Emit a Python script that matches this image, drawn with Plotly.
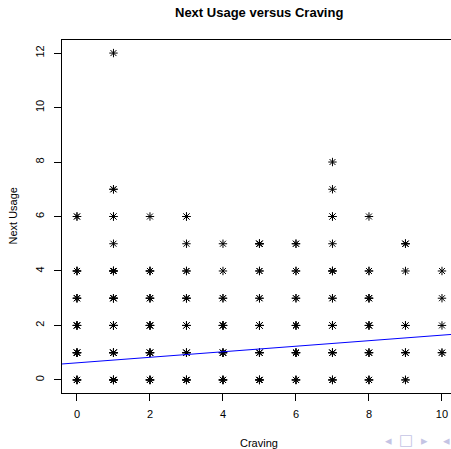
import plotly.graph_objects as go

# ---- data ----
craving = [0, 0, 0, 0, 0, 0,
           1, 1, 1, 1, 1, 1, 1, 1, 1,
           2, 2, 2, 2, 2, 2,
           3, 3, 3, 3, 3, 3, 3,
           4, 4, 4, 4, 4, 4,
           5, 5, 5, 5, 5, 5,
           6, 6, 6, 6, 6, 6,
           7, 7, 7, 7, 7, 7, 7, 7, 7,
           8, 8, 8, 8, 8, 8,
           9, 9, 9, 9, 9,
           10, 10, 10, 10]
next_usage = [0, 1, 2, 3, 4, 6,
              0, 1, 2, 3, 4, 5, 6, 7, 12,
              0, 1, 2, 3, 4, 6,
              0, 1, 2, 3, 4, 5, 6,
              0, 1, 2, 3, 4, 5,
              0, 1, 2, 3, 4, 5,
              0, 1, 2, 3, 4, 5,
              0, 1, 2, 3, 4, 5, 6, 7, 8,
              0, 1, 2, 3, 4, 6,
              0, 1, 2, 4, 5,
              1, 2, 3, 4]
counts = [4, 5, 4, 3, 3, 2,
          5, 6, 5, 4, 4, 1, 2, 2, 1,
          4, 4, 4, 3, 3, 1,
          4, 4, 3, 3, 2, 1, 2,
          4, 4, 4, 2, 1, 1,
          4, 4, 4, 2, 2, 4,
          3, 4, 3, 2, 2, 2,
          3, 4, 3, 2, 3, 1, 2, 1, 1,
          3, 3, 3, 3, 2, 1,
          2, 3, 2, 1, 3,
          2, 1, 1, 1]
fit_intercept = 0.627
fit_slope = 0.1017
x_ticks = [0, 2, 4, 6, 8, 10]
y_ticks = [0, 2, 4, 6, 8, 10, 12]

# expand repeated observations
xs, ys = [], []
for cx, cy, n in zip(craving, next_usage, counts):
    xs += [cx] * n
    ys += [cy] * n

FONT = "Liberation Sans, Arial, sans-serif"
NAV = "#c4c4e4"

fig = go.Figure()
fig.add_trace(go.Scatter(
    x=xs, y=ys, mode="markers",
    marker=dict(symbol="asterisk-open", size=7, color="black",
                line=dict(color="black", width=1)),
    showlegend=False, hoverinfo="skip"))

line_x = [-1, 11]
line_y = [fit_intercept + fit_slope * v for v in line_x]
fig.add_trace(go.Scatter(
    x=line_x, y=line_y, mode="lines",
    line=dict(color="#0000ff", width=1),
    showlegend=False, hoverinfo="skip"))


def nav(sym, px, size):
    return dict(text=sym, xref="paper", x=0, xanchor="center", xshift=px - 62,
                yref="paper", y=0, yanchor="middle", yshift=-(440 - 393),
                showarrow=False, font=dict(family="DejaVu Sans", size=size, color=NAV))


fig.update_layout(
    width=451, height=449,
    margin=dict(l=62, r=0, t=40, b=56, pad=0),
    plot_bgcolor="white", paper_bgcolor="white",
    font=dict(family=FONT, size=11, color="black"),
    xaxis=dict(range=[-0.41, 10.247], tickvals=x_ticks, showgrid=False,
               zeroline=False, showline=True, mirror=True, linecolor="black",
               linewidth=1, ticks="outside", ticklen=7, tickcolor="black",
               ticklabelstandoff=4),
    yaxis=dict(range=[-0.48, 12.48], tickvals=y_ticks, showgrid=False,
               zeroline=False, showline=True, mirror=False, linecolor="black",
               linewidth=1, ticks="outside", ticklen=7, tickcolor="black",
               tickangle=-90, ticklabelstandoff=6),
    annotations=[
        dict(text="<b>Next Usage versus Craving</b>", xref="x", x=5,
             yref="paper", y=1, yanchor="middle", yshift=28, showarrow=False,
             font=dict(family=FONT, size=13, color="black")),
        dict(text="Craving", xref="x", x=5, yref="paper", y=0,
             yanchor="middle", yshift=-50, showarrow=False,
             font=dict(family=FONT, size=11, color="black")),
        dict(text="Next Usage", xref="paper", x=0, xanchor="center",
             xshift=-50, yref="y", y=6, textangle=-90, showarrow=False,
             font=dict(family=FONT, size=11, color="black")),
        nav("◂", 388, 13),
        nav("□", 406, 15),
        nav("▸", 424, 13),
        nav("◂", 446, 13),
    ],
)

fig.write_html(
    "out.html",
    config={"displayModeBar": False},
    post_script="document.body.style.margin='0';document.body.style.overflow='hidden';",
)
